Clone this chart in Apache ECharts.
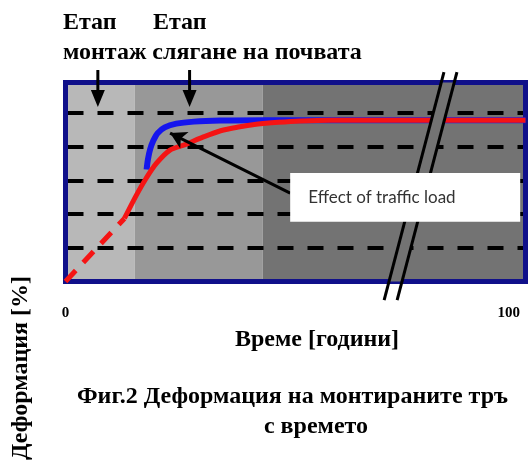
<!DOCTYPE html>
<html>
<head>
<meta charset="utf-8">
<script src="https://cdn.jsdelivr.net/npm/echarts@6/dist/echarts.min.js"></script>
<style>
html, body { margin: 0; padding: 0; background: #fff; }
#chart { width: 531px; height: 466px; }
</style>
</head>
<body>
<div id="chart"></div>
<script>
// axis ranges / ticks
const xLabels = [0, 100];
const xMax = 103.8;
const yMax = 5.9;

// stage bands (time)
const bandEdges = [0, 15.6, 44.5, 103.8];

// curves [time, deformation]
const redDashed = [[0, 0], [13.3, 1.87]];
const redSolid = [[13.3, 1.87], [16, 2.56], [18.2, 3.06], [20.5, 3.5], [23.5, 3.89], [27, 4.06],
    [31, 4.28], [35, 4.47], [39, 4.58], [43, 4.66], [48, 4.72], [53, 4.76], [60, 4.78], [103.8, 4.78]];
const blueCurve = [[18.3, 3.32], [18.6, 3.62], [19.1, 3.92], [19.8, 4.17], [20.8, 4.4], [22.4, 4.57],
    [25, 4.68], [29, 4.74], [35, 4.77], [45, 4.78], [103.8, 4.78]];

// annotations
const stageArrowX = [7.3, 28];
const stageArrowY = [6.27, 5.17];
const loadArrow = [[50.7, 2.62], [23.6, 4.40]];
const loadBox = [[50.7, 3.22], [102.6, 1.77]];
const breakLine = [[85.4, 6.21], [71.9, -0.55]];
const breakGap = 2.93;

const serif = '"Liberation Serif", "Times New Roman", serif';
const bandColors = ['#b8b8b8', '#989898', '#737373'];

let chart = echarts.init(document.getElementById('chart'));

let bands = [];
for (let i = 0; i < bandColors.length; i++) {
    bands.push([
        {xAxis: bandEdges[i], itemStyle: {color: bandColors[i]}},
        {xAxis: bandEdges[i + 1]}
    ]);
}

chart.setOption({
    animation: false,
    backgroundColor: '#fff',
    grid: {left: 65.5, right: 5.5, top: 82.5, bottom: 184.5},
    xAxis: {
        type: 'value',
        min: 0,
        max: xMax,
        axisLine: {show: false},
        axisTick: {show: false},
        splitLine: {show: false},
        axisLabel: {
            customValues: xLabels,
            margin: 24,
            color: '#000',
            fontFamily: serif,
            fontWeight: 'bold',
            fontSize: 15
        }
    },
    yAxis: {
        type: 'value',
        min: 0,
        max: yMax,
        interval: 1,
        axisLine: {show: false},
        axisTick: {show: false},
        axisLabel: {show: false},
        splitLine: {
            show: true,
            showMinLine: false,
            lineStyle: {color: '#000', width: 4, type: [16, 14], dashOffset: -2}
        }
    },
    series: [
        {
            type: 'line',
            data: [],
            z: -1,
            silent: true,
            markArea: {z: -1, silent: true, data: bands}
        },
        {
            type: 'line',
            data: blueCurve,
            smooth: 0.3,
            showSymbol: false,
            lineStyle: {color: '#1515ee', width: 6}
        },
        {
            type: 'line',
            data: redSolid,
            smooth: 0.3,
            showSymbol: false,
            lineStyle: {color: '#f51414', width: 5}
        },
        {
            type: 'line',
            data: redDashed,
            showSymbol: false,
            lineStyle: {color: '#f51414', width: 5, type: [15, 11]}
        },
        {
            type: 'line',
            data: [],
            clip: false,
            markLine: {
                silent: true,
                symbol: ['none', 'arrow'],
                symbolSize: [14, 16],
                label: {show: false},
                lineStyle: {color: '#000', width: 3, type: 'solid'},
                data: [[{coord: loadArrow[0]}, {coord: loadArrow[1]}]]
            }
        }
    ]
});

function px(p) {
    return chart.convertToPixel({gridIndex: 0}, p);
}
function onBreak(t, dx) {
    let a = breakLine[0], b = breakLine[1];
    return px([a[0] + (b[0] - a[0]) * t + dx, a[1] + (b[1] - a[1]) * t]);
}

// plot frame
let tl = px([0, yMax]), br = px([xMax, 0]);
// break band inside the frame
let tIn = (yMax - breakLine[0][1]) / (breakLine[1][1] - breakLine[0][1]);
let tOut = (0 - breakLine[0][1]) / (breakLine[1][1] - breakLine[0][1]);
let boxA = px(loadBox[0]), boxB = px(loadBox[1]);

let graphics = [
    {type: 'rect', z: 3, silent: true,
        shape: {x: tl[0], y: tl[1], width: br[0] - tl[0], height: br[1] - tl[1]},
        style: {fill: 'none', stroke: '#10108a', lineWidth: 5}},
    {type: 'polygon', z: 11, silent: true,
        shape: {points: [onBreak(tIn, 0), onBreak(tIn, breakGap), onBreak(tOut, breakGap), onBreak(tOut, 0)]},
        style: {fill: bandColors[2]}},
    {type: 'line', z: 12, silent: true,
        shape: {x1: onBreak(0, 0)[0], y1: onBreak(0, 0)[1], x2: onBreak(1, 0)[0], y2: onBreak(1, 0)[1]},
        style: {stroke: '#000', lineWidth: 3}},
    {type: 'line', z: 12, silent: true,
        shape: {x1: onBreak(0, breakGap)[0], y1: onBreak(0, breakGap)[1], x2: onBreak(1, breakGap)[0], y2: onBreak(1, breakGap)[1]},
        style: {stroke: '#000', lineWidth: 3}},
    {type: 'rect', z: 13, silent: true,
        shape: {x: boxA[0], y: boxA[1], width: boxB[0] - boxA[0], height: boxB[1] - boxA[1]},
        style: {fill: '#fff'}},
    {type: 'text', z: 14, silent: true,
        style: {text: 'Effect of traffic load', x: boxA[0] + 18, y: (boxA[1] + boxB[1]) / 2,
            textVerticalAlign: 'middle', font: '17px Lato, "Open Sans", sans-serif', fill: '#333'}}
];

// stage arrows (start above the frame)
stageArrowX.forEach(x => {
    let top = px([x, stageArrowY[0]]), tip = px([x, stageArrowY[1]]);
    graphics.push({type: 'line', z: 12, silent: true,
        shape: {x1: top[0], y1: top[1], x2: tip[0], y2: tip[1] - 10},
        style: {stroke: '#000', lineWidth: 3}});
    graphics.push({type: 'polygon', z: 12, silent: true,
        shape: {points: [[tip[0] - 7, tip[1] - 17], [tip[0] + 7, tip[1] - 17], [tip[0], tip[1]]]},
        style: {fill: '#000'}});
});

const texts = [
    ['Етап', 63, 23, 'left'],
    ['Етап', 153, 23, 'left'],
    ['монтаж слягане на почвата', 63, 53, 'left'],
    ['Време [години]', 317, 340, 'center'],
    ['Фиг.2 Деформация на монтираните тръ', 77, 397, 'left'],
    ['с времето', 316, 427, 'center']
];
texts.forEach(t => {
    graphics.push({type: 'text', silent: true,
        style: {text: t[0], x: t[1], y: t[2], textAlign: t[3], textVerticalAlign: 'middle',
            font: 'bold 24px ' + serif, fill: '#000'}});
});
graphics.push({type: 'text', silent: true, x: 21, y: 368, rotation: Math.PI / 2,
    style: {text: 'Деформация [%]', x: 0, y: 0, textAlign: 'center', textVerticalAlign: 'middle',
        font: 'bold 24px ' + serif, fill: '#000'}});

chart.setOption({graphic: graphics});
</script>
</body>
</html>
